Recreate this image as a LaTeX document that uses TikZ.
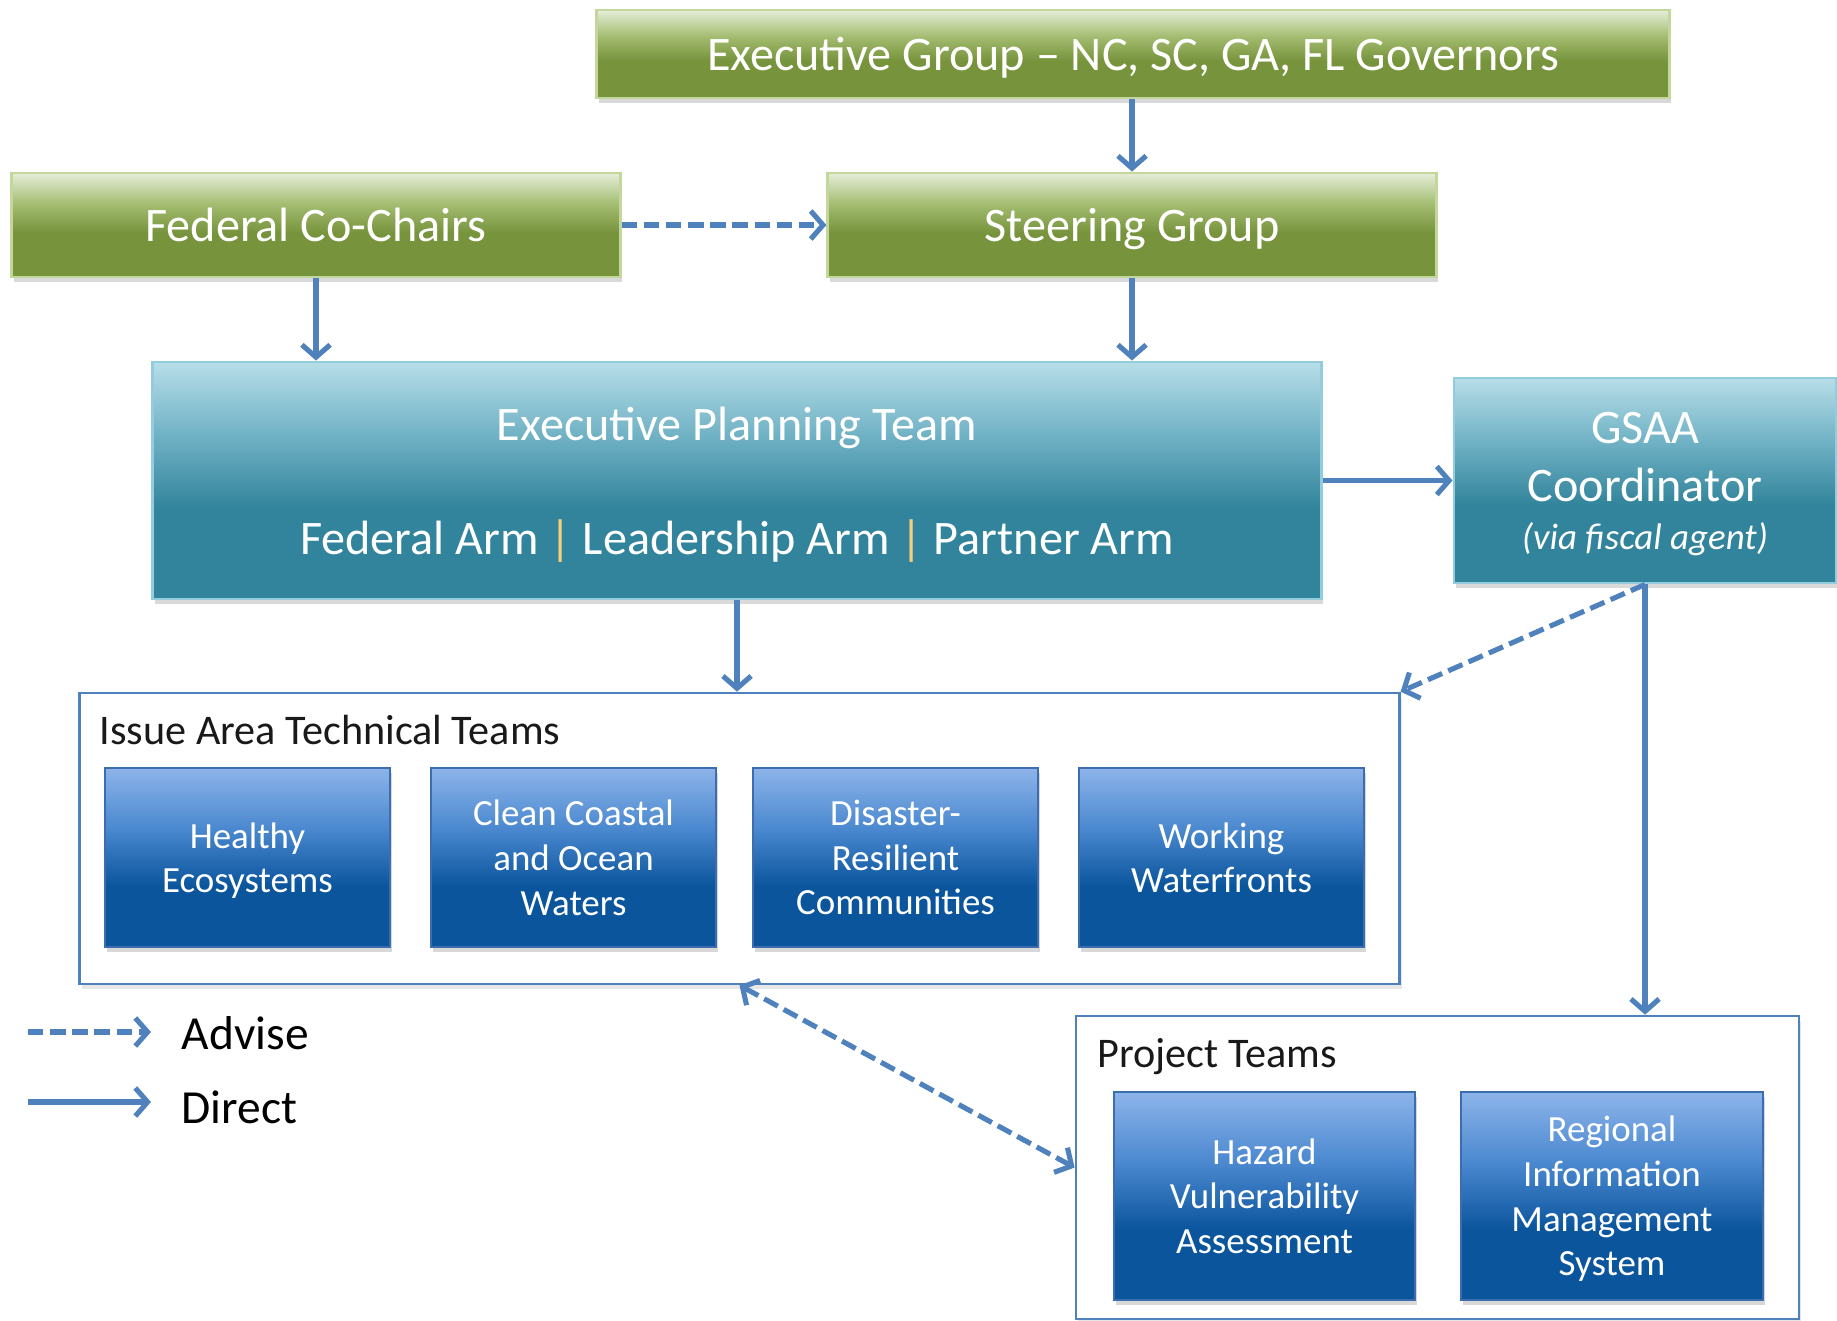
\documentclass[tikz,border=0pt]{standalone}
\usepackage{fontspec}
\setmainfont{Carlito}
\usepackage{tikz}
\usetikzlibrary{arrows.meta,shadows}

\definecolor{grpdark}{HTML}{77933C}
\definecolor{grpmid}{HTML}{A3BC70}
\definecolor{grplight}{HTML}{E6EED9}
\definecolor{grpline}{HTML}{C3D69B}
\definecolor{eptdark}{HTML}{31849B}
\definecolor{eptmid}{HTML}{72B3C6}
\definecolor{eptlight}{HTML}{B7DEE8}
\definecolor{eptline}{HTML}{93CDDD}
\definecolor{teamdark}{HTML}{0B559D}
\definecolor{teammid}{HTML}{4A88CF}
\definecolor{teamlight}{HTML}{8DB4EA}
\definecolor{teamline}{HTML}{3C6DAE}
\definecolor{linkblue}{HTML}{4F81BD}
\definecolor{armgold}{HTML}{F5CF7A}

\pgfdeclareverticalshading{grpshade}{100bp}{color(0bp)=(grpdark); color(25bp)=(grpdark); color(46bp)=(grpdark); color(60bp)=(grpmid); color(75bp)=(grplight); color(100bp)=(grplight)}
\pgfdeclareverticalshading{eptshade}{100bp}{color(0bp)=(eptdark); color(25bp)=(eptdark); color(44bp)=(eptdark); color(60bp)=(eptmid); color(75bp)=(eptlight); color(100bp)=(eptlight)}
\pgfdeclareverticalshading{teamshade}{100bp}{color(0bp)=(teamdark); color(25bp)=(teamdark); color(42bp)=(teamdark); color(58bp)=(teammid); color(75bp)=(teamlight); color(100bp)=(teamlight)}

\begin{document}
\begin{tikzpicture}[x=0.01cm,y=-0.01cm]
\tikzstyle{govbox}=[draw=grpline,line width=0.8pt,shade,shading=grpshade,text=white,inner sep=0pt,minimum width=6.08cm,minimum height=1.04cm,text height=9.5pt,text depth=0pt,font=\fontsize{13.7}{16}\selectfont,drop shadow={shadow xshift=0.6pt,shadow yshift=-1.4pt,opacity=0.3}]
\tikzstyle{planbox}=[draw=eptline,line width=0.8pt,shade,shading=eptshade,text=white,inner sep=0pt,align=center,text depth=0pt,font=\fontsize{13.7}{16}\selectfont,drop shadow={shadow xshift=0.6pt,shadow yshift=-1.4pt,opacity=0.3}]
\tikzstyle{teambox}=[draw=teamline,line width=0.6pt,shade,shading=teamshade,text=white,inner sep=0pt,align=center,text depth=0pt,minimum width=2.85cm,minimum height=1.79cm,font=\fontsize{10.5}{12.7}\selectfont,drop shadow={shadow xshift=0.6pt,shadow yshift=-1.4pt,opacity=0.3}]
\tikzstyle{teamframe}=[draw=linkblue,line width=0.7pt,fill=white,inner sep=0pt,drop shadow={shadow xshift=0.6pt,shadow yshift=-1.4pt,opacity=0.2}]
\tikzstyle{frametitle}=[inner sep=0pt,text depth=0pt,text=black!90,font=\fontsize{12}{14}\selectfont]
\tikzstyle{legendtext}=[inner sep=0pt,text=black,font=\fontsize{13.5}{15}\selectfont]
\tikzstyle{dirarrow}=[draw=linkblue,line width=1.45pt,-{Straight Barb[length=3.5pt,width=8pt]}]
\tikzstyle{advarrow}=[dirarrow,dash pattern=on 4.4pt off 1.9pt]
\useasboundingbox (0,0) rectangle (1837,1320);

\node[govbox,minimum width=10.72cm,minimum height=0.88cm] (exec) at (1133,54) {Executive Group – NC, SC, GA, FL Governors};
\node[govbox] (cochairs) at (316,225) {Federal Co-Chairs};
\node[govbox] (steering) at (1132,225) {Steering Group};
\node[planbox,minimum width=11.68cm,minimum height=2.37cm] (ept) at (737,480.5)
    {Executive Planning Team\\[16.5pt]Federal Arm {\color{armgold}|} Leadership Arm {\color{armgold}|} Partner Arm};
\node[planbox,minimum width=3.82cm,minimum height=2.05cm,text depth=-3.4pt] (gsaa) at (1645,480.5)
    {GSAA\\[0.5pt]Coordinator\\[-2.4pt]{\fontsize{10.5}{12.6}\selectfont\itshape (via fiscal agent)}};

\node[teamframe,minimum width=13.19cm,minimum height=2.91cm] (issue) at (739.5,838.5) {};
\node[frametitle,anchor=west] (issuetitle) at (99,730) {Issue Area Technical Teams};
\node[teambox] (healthy) at (247.5,857.5) {Healthy\\Ecosystems};
\node[teambox] (clean) at (573.5,857.5) {Clean Coastal\\and Ocean\\Waters};
\node[teambox] (disaster) at (895.5,857.5) {Disaster-\\Resilient\\Communities};
\node[teambox] (working) at (1221.5,857.5) {Working\\Waterfronts};

\node[teamframe,minimum width=7.23cm,minimum height=3.03cm] (proj) at (1437.5,1167.5) {};
\node[frametitle,anchor=west] (projtitle) at (1097,1053) {Project Teams};
\node[teambox,minimum width=3.01cm,minimum height=2.08cm] (hazard) at (1264.5,1196) {Hazard\\Vulnerability\\Assessment};
\node[teambox,minimum width=3.02cm,minimum height=2.08cm] (regional) at (1612,1196) {Regional\\Information\\Management\\System};

\draw[dirarrow] (exec.south -| steering.north) -- (steering.north);
\draw[advarrow] (cochairs.east) -- (steering.west);
\draw[dirarrow] (cochairs.south) -- (cochairs.south |- ept.north);
\draw[dirarrow] (steering.south) -- (steering.south |- ept.north);
\draw[dirarrow] (ept.east) -- (gsaa.west);
\draw[dirarrow] (ept.south) -- (ept.south |- issue.north);
\draw[advarrow] (gsaa.south) -- (issue.north east);
\draw[dirarrow] (gsaa.south) -- (gsaa.south |- proj.north);
\draw[advarrow,{Straight Barb[length=3.5pt,width=8pt]}-{Straight Barb[length=3.5pt,width=8pt]}] (issue.south) -- (proj.west);

\coordinate (advfrom) at (28,1032);
\coordinate (advto) at (151,1032);
\coordinate (dirfrom) at (28,1102);
\coordinate (dirto) at (151,1102);
\draw[advarrow] (advfrom) -- (advto);
\draw[dirarrow] (dirfrom) -- (dirto);
\node[legendtext,anchor=west] (advlabel) at (181,1033) {Advise};
\node[legendtext,anchor=west] (dirlabel) at (181,1107) {Direct};
\end{tikzpicture}
\end{document}
